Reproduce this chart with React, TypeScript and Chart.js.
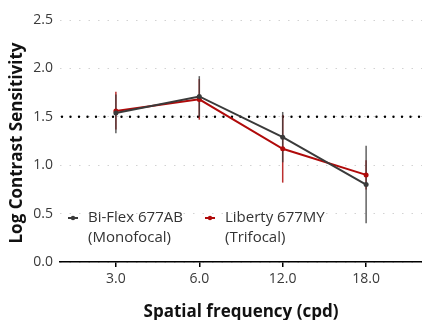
import React, { useEffect, useRef } from "react";
import { Chart, registerables } from "chart.js";

Chart.register(...registerables);

const xLabels = ["3.0", "6.0", "12.0", "18.0"];
const yTicks = [0, 0.5, 1.0, 1.5, 2.0, 2.5];

const seriesNames = ["Bi-Flex 677AB", "Liberty 677MY"];
const seriesSub = ["(Monofocal)", "(Trifocal)"];

const biflexMean = [1.54, 1.71, 1.29, 0.8];
const biflexLow = [1.33, 1.5, 1.03, 0.4];
const biflexHigh = [1.73, 1.92, 1.55, 1.2];

const libertyMean = [1.56, 1.68, 1.17, 0.9];
const libertyLow = [1.37, 1.47, 0.82, 0.75];
const libertyHigh = [1.76, 1.89, 1.52, 1.05];

const refLine = 1.5;

const GREY = "#3a3a3a";
const RED = "#b00a0a";
const FONT = "'Open Sans', sans-serif";

export default function App() {
  const ref = useRef<HTMLCanvasElement>(null);

  useEffect(() => {
    if (!ref.current) return;

    const toPts = (arr: number[]) => arr.map((v, i) => ({ x: i + 1, y: v }));

    const errPlugin = {
      id: "errbars",
      beforeDatasetsDraw(chart: any) {
        const { ctx, chartArea, scales } = chart;
        const xs = scales.x;
        const ys = scales.y;
        ctx.save();
        // reference line
        ctx.strokeStyle = "#000";
        ctx.lineWidth = 2.4;
        ctx.lineCap = "round";
        ctx.setLineDash([0, 8.5]);
        const yr = ys.getPixelForValue(refLine);
        ctx.beginPath();
        ctx.moveTo(chartArea.left + 2, yr);
        ctx.lineTo(chartArea.right, yr);
        ctx.stroke();
        ctx.setLineDash([]);
        ctx.lineCap = "butt";
        // error bars
        const groups = [
          { low: libertyLow, high: libertyHigh, color: "rgba(176,10,10,0.85)" },
          { low: biflexLow, high: biflexHigh, color: "rgba(58,58,58,0.8)" },
        ];
        ctx.lineWidth = 1.5;
        for (const g of groups) {
          ctx.strokeStyle = g.color;
          g.low.forEach((lo, i) => {
            const px = xs.getPixelForValue(i + 1);
            ctx.beginPath();
            ctx.moveTo(px, ys.getPixelForValue(lo));
            ctx.lineTo(px, ys.getPixelForValue(g.high[i]));
            ctx.stroke();
          });
        }
        ctx.restore();
      },
      afterDraw(chart: any) {
        const { ctx } = chart;
        ctx.save();
        // legend
        const items = [
          { mx: 73, tx: 88, color: GREY },
          { mx: 210, tx: 225, color: RED },
        ];
        items.forEach((it, i) => {
          const y = 218;
          ctx.strokeStyle = it.color;
          ctx.fillStyle = it.color;
          ctx.lineWidth = 2;
          ctx.beginPath();
          ctx.moveTo(it.mx - 5, y);
          ctx.lineTo(it.mx + 5, y);
          ctx.stroke();
          ctx.beginPath();
          ctx.arc(it.mx, y, 2.2, 0, Math.PI * 2);
          ctx.fill();
          ctx.fillStyle = "#333";
          ctx.font = `15px ${FONT}`;
          ctx.textAlign = "left";
          ctx.textBaseline = "middle";
          ctx.fillText(seriesNames[i], it.tx, y);
          ctx.fillText(seriesSub[i], it.tx, y + 19.5);
        });
        // axis titles
        ctx.fillStyle = "#111";
        ctx.font = `bold 17px ${FONT}`;
        ctx.textAlign = "center";
        ctx.textBaseline = "alphabetic";
        ctx.fillText("Spatial frequency (cpd)", 241, 317);
        ctx.translate(21.5, 143);
        ctx.rotate(-Math.PI / 2);
        ctx.fillText("Log Contrast Sensitivity", 0, 0);
        ctx.restore();
      },
    };

    const chart = new Chart(ref.current, {
      type: "line",
      data: {
        datasets: [
          {
            label: seriesNames[0],
            data: toPts(biflexMean),
            borderColor: GREY,
            backgroundColor: GREY,
            borderWidth: 2,
            pointRadius: 2.5,
            pointBorderWidth: 0,
            tension: 0,
          },
          {
            label: seriesNames[1],
            data: toPts(libertyMean),
            borderColor: RED,
            backgroundColor: RED,
            borderWidth: 2,
            pointRadius: 2.5,
            pointBorderWidth: 0,
            tension: 0,
          },
        ],
      },
      options: {
        animation: false,
        responsive: false,
        devicePixelRatio: 1,
        layout: { autoPadding: false, padding: { top: 20, right: 0, left: 0, bottom: 0 } },
        plugins: { legend: { display: false }, tooltip: { enabled: false } },
        scales: {
          x: {
            type: "linear",
            min: 0.33,
            max: 4.67,
            afterBuildTicks: (s: any) => {
              s.ticks = xLabels.map((_, i) => ({ value: i + 1 }));
            },
            afterFit: (s: any) => {
              s.height = 58;
              s.paddingLeft = 0;
              s.paddingRight = 0;
            },
            ticks: {
              callback: (v: any) => xLabels[Math.round(v) - 1] ?? "",
              color: "#3a3a3a",
              font: { family: FONT, size: 14 },
              padding: 4,
              maxRotation: 0,
            },
            grid: {
              drawOnChartArea: false,
              drawTicks: true,
              tickLength: 5,
              color: "#000",
              lineWidth: 1.5,
            },
            border: { display: true, color: "#000", width: 1.5 },
          },
          y: {
            min: 0,
            max: 2.5,
            afterBuildTicks: (s: any) => {
              s.ticks = yTicks.map((v) => ({ value: v }));
            },
            afterFit: (s: any) => {
              s.width = 60;
              s.paddingTop = 0;
              s.paddingBottom = 0;
            },
            ticks: {
              callback: (v: any) => Number(v).toFixed(1),
              color: "#3a3a3a",
              font: { family: FONT, size: 14 },
              padding: 7,
            },
            grid: {
              drawTicks: false,
              color: "#d2d2d2",
              lineWidth: 1,
            },
            border: { display: false, dash: [1.5, 8] },
          },
        },
      },
      plugins: [errPlugin],
    } as any);

    return () => chart.destroy();
  }, []);

  return (
    <div style={{ position: "fixed", left: 0, top: 0, width: 422, height: 320, background: "#fff" }}>
      <canvas ref={ref} width={422} height={320} style={{ width: 422, height: 320 }} />
    </div>
  );
}
